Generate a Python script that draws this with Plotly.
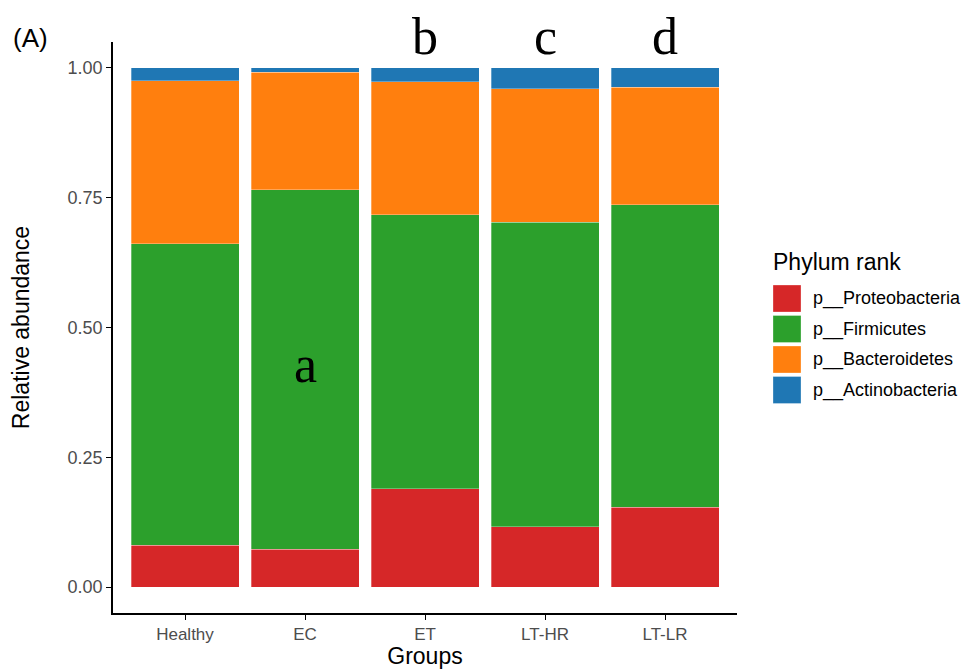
import plotly.graph_objects as go

groups = ["Healthy", "EC", "ET", "LT-HR", "LT-LR"]
phyla = ["p__Proteobacteria", "p__Firmicutes", "p__Bacteroidetes", "p__Actinobacteria"]
colors = ["#D62728", "#2CA02C", "#FF7F0E", "#1F77B4"]
proteobacteria = [0.081, 0.073, 0.189, 0.116, 0.154]
firmicutes = [0.580, 0.692, 0.528, 0.587, 0.582]
bacteroidetes = [0.314, 0.227, 0.256, 0.257, 0.227]
actinobacteria = [0.025, 0.008, 0.027, 0.040, 0.037]
series = [proteobacteria, firmicutes, bacteroidetes, actinobacteria]
letter_groups = ["EC", "ET", "LT-HR", "LT-LR"]
letters = ["a", "b", "c", "d"]
letter_y = [0.429, 1.061, 1.061, 1.061]
y_ticks = [0, 0.25, 0.5, 0.75, 1.0]
y_tick_text = ["0.00", "0.25", "0.50", "0.75", "1.00"]

OFF = 8  # page body margin
W, H = 971 - OFF, 669 - OFF
L, R, T, B = 113 - OFF, 737 - OFF, 42 - OFF, 613 - OFF
Y_RANGE = [-0.05, 1.05]

def px(x):
    return (x - OFF - L) / (R - L)

def py(y):
    return (B - (y - OFF)) / (B - T)

def yd(v):
    return (v - Y_RANGE[0]) / (Y_RANGE[1] - Y_RANGE[0])

fig = go.Figure()
for name, vals, col in zip(phyla, series, colors):
    fig.add_trace(go.Bar(x=groups, y=vals, name=name,
                         marker=dict(color=col, line=dict(width=0.5, color="rgba(255,255,255,0.6)")),
                         showlegend=False))

ann = []
for g, t, yv in zip(letter_groups, letters, letter_y):
    ann.append(dict(x=g, y=yd(yv), xref="x", yref="paper", text=t, showarrow=False,
                    font=dict(family="Liberation Serif, Times New Roman, serif", size=52, color="black"),
                    yanchor="middle", xanchor="center"))
ann.append(dict(x=px(11), y=py(38), xref="paper", yref="paper", text="(A)", showarrow=False,
                xanchor="left", yanchor="middle", font=dict(family="Liberation Sans, Arial", size=26, color="black")))
ann.append(dict(x=px(771), y=py(262), xref="paper", yref="paper", text="Phylum rank", showarrow=False,
                xanchor="left", yanchor="middle", font=dict(family="Liberation Sans, Arial", size=23, color="black")))

shapes = []
for i, (name, col) in enumerate(zip(phyla, colors)):
    y0 = 285 + i * 30.5
    shapes.append(dict(type="rect", xref="paper", yref="paper", x0=px(773), x1=px(801),
                       y0=py(y0), y1=py(y0 + 27), fillcolor=col,
                       line=dict(width=0.5, color="rgba(255,255,255,0.6)")))
    ann.append(dict(x=px(811), y=py(y0 + 13.5), xref="paper", yref="paper", text=name, showarrow=False,
                    xanchor="left", yanchor="middle", font=dict(family="Liberation Sans, Arial", size=18, color="black")))

fig.update_layout(
    width=W, height=H,
    margin=dict(l=L, r=W - R, t=T, b=H - B),
    barmode="stack", bargap=0.1,
    plot_bgcolor="white", paper_bgcolor="white",
    annotations=ann, shapes=shapes,
    font=dict(family="Liberation Sans, Arial", color="black"),
)
fig.update_xaxes(
    range=[-0.6, 4.6], showline=True, linecolor="black", linewidth=1.6, automargin=False,
    ticks="outside", ticklen=5, tickcolor="black", tickwidth=1.2,
    tickfont=dict(size=17, color="#4D4D4D"), showgrid=False, zeroline=False,
    title=dict(text="Groups", font=dict(size=23, color="black"), standoff=3),
)
fig.update_yaxes(
    range=Y_RANGE, showline=True, linecolor="black", linewidth=1.6, automargin=False,
    ticks="outside", ticklen=5, tickcolor="black", tickwidth=1.2,
    tickvals=y_ticks, ticktext=y_tick_text,
    tickfont=dict(size=18, color="#4D4D4D"), showgrid=False, zeroline=False,
    title=dict(text="Relative abundance", font=dict(size=23, color="black"), standoff=32),
)
fig.write_html("out.html")
